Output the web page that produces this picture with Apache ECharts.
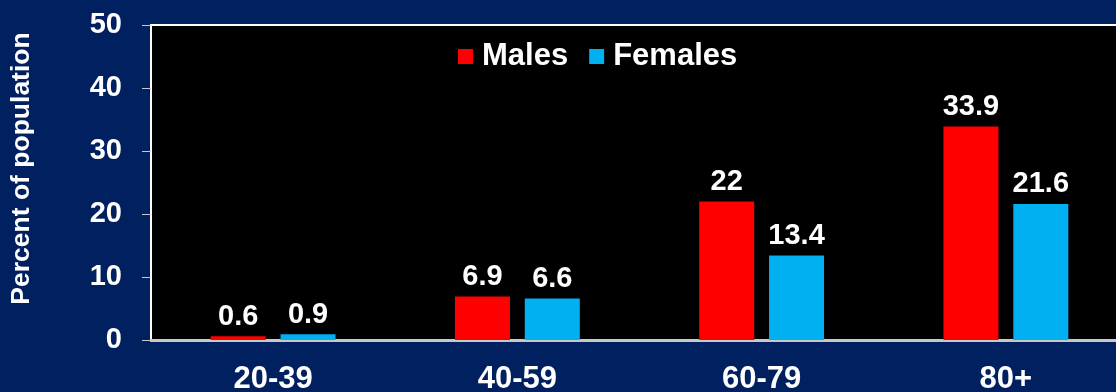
<!DOCTYPE html>
<html>
<head>
<meta charset="utf-8">
<script src="https://cdn.jsdelivr.net/npm/echarts@6/dist/echarts.min.js"></script>
<style>
  html, body { margin: 0; padding: 0; background: #00205f; }
  #chart { width: 1116px; height: 392px; }
</style>
</head>
<body>
<div id="chart"></div>
<script>
const ageGroups = ['20-39', '40-59', '60-79', '80+']
const males = [0.6, 6.9, 22, 33.9]
const females = [0.9, 6.6, 13.4, 21.6]
const yTicks = [0, 10, 20, 30, 40, 50]

const font = 'Liberation Sans, Arial, sans-serif'
const chart = echarts.init(document.getElementById('chart'))

const labelStyle = {
  show: true,
  position: 'top',
  distance: 5,
  color: '#fff',
  fontSize: 29,
  fontWeight: 'bold',
  fontFamily: font
}

chart.setOption({
  animation: false,
  backgroundColor: '#00205f',
  textStyle: { fontFamily: font },
  grid: {
    show: true,
    left: 151,
    top: 25,
    width: 977,
    height: 315,
    outerBoundsMode: 'none',
    containLabel: false,
    backgroundColor: '#000',
    borderColor: '#fff',
    borderWidth: 2
  },
  legend: {
    data: ['Males', 'Females'],
    left: 453,
    top: 36,
    itemWidth: 15,
    itemHeight: 15,
    itemGap: 21,
    icon: 'rect',
    textStyle: {
      color: '#fff',
      fontSize: 31,
      fontWeight: 'bold',
      fontFamily: font,
      padding: [0, 0, 0, 4]
    }
  },
  xAxis: {
    type: 'category',
    data: ageGroups,
    axisLine: { lineStyle: { color: '#c8c8c8', width: 3 } },
    axisTick: { show: false },
    axisLabel: {
      color: '#fff',
      fontSize: 31,
      fontWeight: 'bold',
      margin: 24
    }
  },
  yAxis: {
    type: 'value',
    min: yTicks[0],
    max: yTicks[yTicks.length - 1],
    interval: 10,
    name: 'Percent of population',
    nameLocation: 'middle',
    nameGap: 116,
    nameTextStyle: {
      color: '#fff',
      fontSize: 26.5,
      fontWeight: 'bold',
      padding: [0, 0, 0, 28]
    },
    axisLine: { show: false },
    axisTick: { show: true, length: 9, lineStyle: { color: '#c8c8c8' } },
    splitLine: { show: false },
    axisLabel: {
      color: '#fff',
      fontSize: 29,
      fontWeight: 'bold',
      margin: 29
    }
  },
  series: [
    {
      name: 'Males',
      type: 'bar',
      data: males,
      barWidth: 55,
      barGap: '27%',
      itemStyle: { color: '#ff0000' },
      label: labelStyle
    },
    {
      name: 'Females',
      type: 'bar',
      data: females,
      barWidth: 55,
      itemStyle: { color: '#00b0f0' },
      label: labelStyle
    }
  ]
})
</script>
</body>
</html>
